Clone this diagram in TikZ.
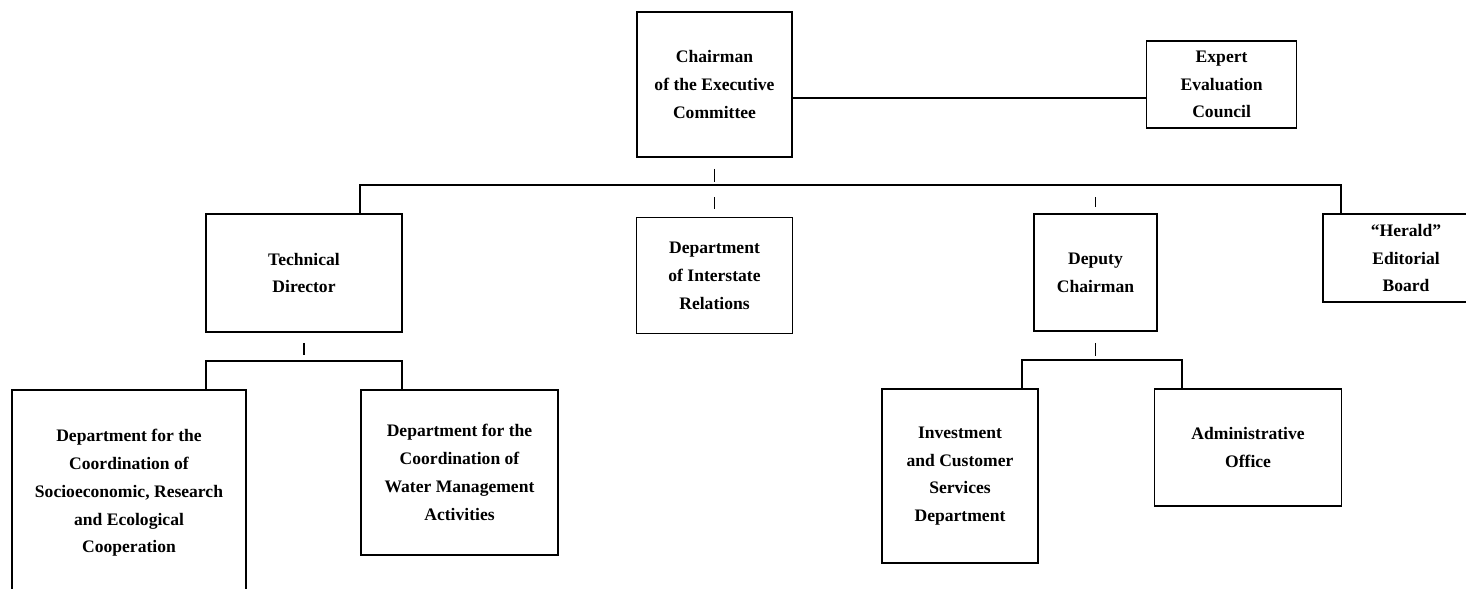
\documentclass[tikz,border=0pt]{standalone}
\usepackage{fontspec}
\setmainfont{Liberation Serif}
\usepackage{tikz}
\usetikzlibrary{positioning}
\usetikzlibrary{calc}

\begin{document}
\begin{tikzpicture}[
    box/.style={draw, line width=0.9pt, align=center, inner sep=0pt,
        font=\fontsize{10pt}{15.8pt}\bfseries\selectfont},
    link/.style={line width=0.9pt},
    tick/.style={line width=0.9pt}
    ]

        \useasboundingbox (0,0) rectangle (29.32,-11.78);

        \node [box, minimum width=3.1cm, minimum height=2.9cm] (chair) at (14.29,-1.69) {Chairman\\of the Executive\\Committee};
        \node [box, minimum width=3.0cm, minimum height=1.74cm, right=7.06cm of chair] (expert) {Expert\\Evaluation\\Council};

        \node [box, minimum width=3.92cm, minimum height=2.36cm] (tech) at (6.08,-5.46) {Technical\\Director};
        \node [box, minimum width=3.12cm, minimum height=2.32cm, below=1.18cm of chair] (inter) {Department\\of Interstate\\Relations};
        \node [box, minimum width=2.46cm, minimum height=2.34cm] (dep) at (21.91,-5.45) {Deputy\\Chairman};
        \node [box, minimum width=3.32cm, minimum height=1.76cm] (herald) at (28.12,-5.16) {``Herald''\\Editorial\\Board};

        \node [box, minimum width=4.68cm, minimum height=4.12cm] (socio) at (2.58,-9.86) {Department for the\\Coordination of\\Socioeconomic, Research\\and Ecological\\Cooperation};
        \node [box, minimum width=3.94cm, minimum height=3.3cm] (water) at (9.19,-9.45) {Department for the\\Coordination of\\Water Management\\Activities};
        \node [box, minimum width=3.12cm, minimum height=3.48cm] (invest) at (19.2,-9.52) {Investment\\and Customer\\Services\\Department};
        \node [box, minimum width=3.74cm, minimum height=2.34cm, right=2.3cm of invest.north east, anchor=north west] (admin) {Administrative\\Office};

        \coordinate (ce) at (0,-1.96);
        \coordinate (bl) at (7.2,-3.7);
        \coordinate (br) at (26.82,-3.7);
        \coordinate (tl) at (4.12,-7.22);
        \coordinate (tr) at (8.04,-7.22);
        \coordinate (dl) at (20.44,-7.2);
        \coordinate (dr) at (23.64,-7.2);

        \draw [link] (chair.east |- ce) -- (expert.west |- ce);
        \draw [link] (bl |- tech.north) -- (bl) -- (br) -- (br |- herald.north);
        \draw [link] (tl |- socio.north) -- (tl) -- (tr) -- (tr |- water.north);
        \draw [link] (dl |- invest.north) -- (dl) -- (dr) -- (dr |- admin.north);

        \draw [tick, shorten <=0.22cm, shorten >=0.06cm] (chair.south) -- (chair.south |- bl);
        \draw [tick, shorten <=0.24cm, shorten >=0.16cm] (inter.north |- bl) -- (inter.north);
        \draw [tick, shorten <=0.24cm, shorten >=0.12cm] (dep.north |- bl) -- (dep.north);
        \draw [tick, shorten <=0.2cm, shorten >=0.12cm] (tech.south) -- (tech.south |- tl);
        \draw [tick, shorten <=0.22cm, shorten >=0.08cm] (dep.south) -- (dep.south |- dl);

\end{tikzpicture}
\end{document}
